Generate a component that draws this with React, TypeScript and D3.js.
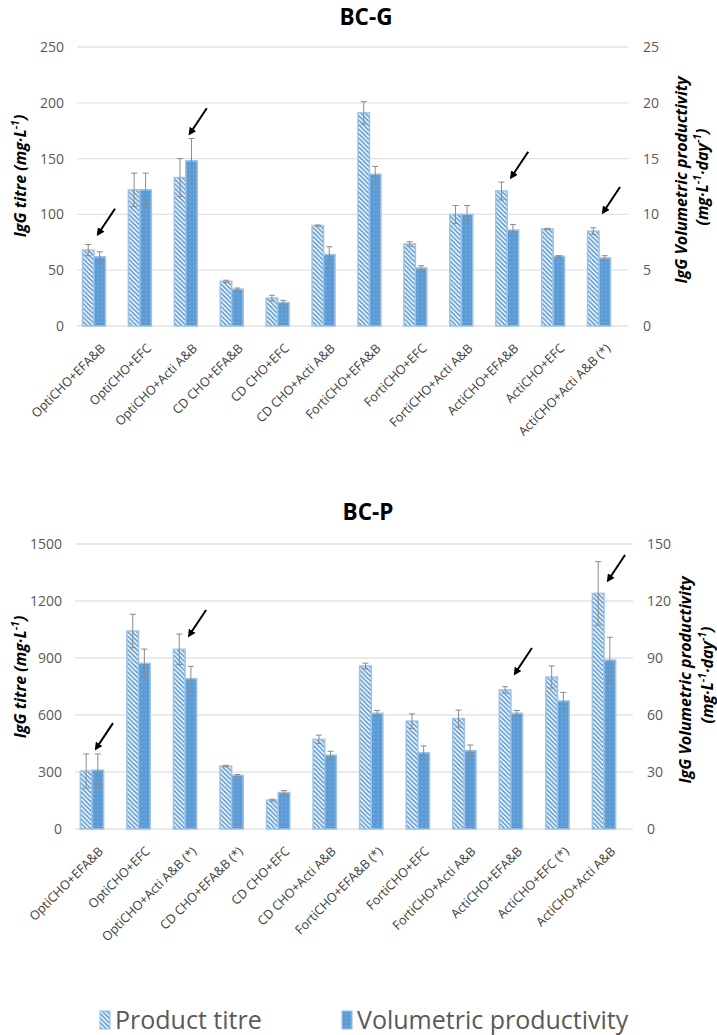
import React from 'react';
import * as d3 from 'd3';

// BC-G
const catsG = ['OptiCHO+EFA&B', 'OptiCHO+EFC', 'OptiCHO+Acti A&B', 'CD CHO+EFA&B', 'CD CHO+EFC', 'CD CHO+Acti A&B',
  'FortiCHO+EFA&B', 'FortiCHO+EFC', 'FortiCHO+Acti A&B', 'ActiCHO+EFA&B', 'ActiCHO+EFC', 'ActiCHO+Acti A&B (*)'];
const titreG = [68, 122, 133, 40, 25, 90, 191, 73.5, 100, 121, 87, 85];
const titreErrG = [5, 15, 17, 1, 2.5, 0.5, 10, 2, 8, 8, 0.5, 3];
const volG = [6.2, 12.2, 14.8, 3.3, 2.1, 6.4, 13.6, 5.2, 10.0, 8.6, 6.25, 6.1];
const volErrG = [0.45, 1.5, 2.0, 0.1, 0.2, 0.7, 0.7, 0.2, 0.8, 0.5, 0.05, 0.2];
const leftTicksG = [0, 50, 100, 150, 200, 250];
const rightTicksG = [0, 5, 10, 15, 20, 25];
const arrowCatsG = [0, 2, 9, 11];
const arrowValsG = [80, 170, 131, 99.5];

// BC-P
const catsP = ['OptiCHO+EFA&B', 'OptiCHO+EFC', 'OptiCHO+Acti A&B (*)', 'CD CHO+EFA&B (*)', 'CD CHO+EFC', 'CD CHO+Acti A&B',
  'FortiCHO+EFA&B (*)', 'FortiCHO+EFC', 'FortiCHO+Acti A&B', 'ActiCHO+EFA&B', 'ActiCHO+EFC (*)', 'ActiCHO+Acti A&B'];
const titreP = [305, 1042, 946, 331, 152, 472, 858, 568, 581, 732, 800, 1240];
const titreErrP = [90, 88, 80, 4, 5, 22, 15, 38, 45, 17, 58, 167];
const volP = [31.0, 87.2, 79.1, 28.2, 19.2, 38.9, 60.9, 40.2, 41.2, 60.9, 67.4, 88.9];
const volErrP = [8.5, 7.5, 6.5, 0.5, 1, 2, 1.5, 3.5, 3, 1.5, 4.5, 12];
const leftTicksP = [0, 300, 600, 900, 1200, 1500];
const rightTicksP = [0, 30, 60, 90, 120, 150];
const arrowCatsP = [0, 2, 9, 11];
const arrowValsP = [410, 1005, 805, 1295];

const legendNames = ['Product titre', 'Volumetric productivity'];

const BLUE = '#5B9BD5';
const EDGE = '#9DC3E6';
const GRID = '#e3e3e3';
const TICK = '#595959';
const FONT = '"Open Sans", sans-serif';

function Panel(props) {
  const { title, cats, titre, titreErr, vol, volErr, leftTicks, rightTicks, arrowCats, arrowVals, g } = props;
  const x = d3.scaleBand().domain(cats).range([g.x0, g.x1]);
  const leftMax = leftTicks[leftTicks.length - 1];
  const rightMax = rightTicks[rightTicks.length - 1];
  const y = d3.scaleLinear().domain([0, leftMax]).range([g.bottom, g.top]);
  const yR = d3.scaleLinear().domain([0, rightMax]).range([g.bottom, g.top]);
  const bw = x.step() * 0.25;
  const cx = c => x(c) + x.bandwidth() / 2;

  const errBar = (xc, v, e, sc, key) => (
    <g key={key} stroke="#8a8a8a" strokeWidth={1}>
      <line x1={xc} x2={xc} y1={sc(v + e)} y2={sc(v - e)} />
      <line x1={xc - 3} x2={xc + 3} y1={sc(v + e)} y2={sc(v + e)} />
      <line x1={xc - 3} x2={xc + 3} y1={sc(v - e)} y2={sc(v - e)} />
    </g>
  );

  const axisTitle = { fontFamily: FONT, fontWeight: 'bold', fontStyle: 'italic', fontSize: 16, fill: '#000', textAnchor: 'middle' };

  return (
    <g>
      <text x={g.titleX} y={g.titleY} textAnchor="middle" fontFamily={FONT} fontWeight="bold" fontSize={22.5} fill="#000">{title}</text>
      {leftTicks.map(t => (
        <g key={'gl' + t}>
          <line x1={g.gx0} x2={g.gx1} y1={y(t)} y2={y(t)} stroke={GRID} strokeWidth={1.3} />
          <text x={g.lx} y={y(t)} dy="0.36em" textAnchor="end" fontFamily={FONT} fontSize={14} fill={TICK}>{t}</text>
        </g>
      ))}
      {rightTicks.map(t => (
        <text key={'r' + t} x={g.rx} y={yR(t)} dy="0.36em" textAnchor="start" fontFamily={FONT} fontSize={14} fill={TICK}>{t}</text>
      ))}
      {cats.map((c, i) => {
        const c0 = cx(c);
        return (
          <g key={c}>
            <rect x={c0 - bw} y={y(titre[i])} width={bw} height={g.bottom - y(titre[i])} fill="url(#hatch)" stroke={EDGE} strokeWidth={1.5} />
            <rect x={c0} y={yR(vol[i])} width={bw} height={g.bottom - yR(vol[i])} fill="url(#dots)" stroke={EDGE} strokeWidth={1.5} />
            {errBar(c0 - bw / 2, titre[i], titreErr[i], y, 'e1')}
            {errBar(c0 + bw / 2, vol[i], volErr[i], yR, 'e2')}
            <text transform={`translate(${c0 + 9},${g.bottom + 20}) rotate(-45)`} dy="0.35em" textAnchor="end" fontFamily={FONT} fontSize={12.6} fill="#404040">{c}</text>
          </g>
        );
      })}
      {arrowCats.map((ci, i) => {
        const tx = cx(cats[ci]) + 2;
        const ty = y(arrowVals[i]);
        return <line key={'a' + i} x1={tx + 19} y1={ty - 28} x2={tx + 3} y2={ty - 4} stroke="#000" strokeWidth={2} markerEnd="url(#arrow)" />;
      })}
      <text transform={`translate(${g.ltX},${g.ltY}) rotate(-90)`} {...axisTitle}>
        IgG titre (mg·L<tspan baselineShift="super" fontSize={10.5}>-1</tspan>)
      </text>
      <text transform={`translate(${g.rt1X},${g.rt1Y}) rotate(-90)`} {...axisTitle}>
        IgG Volumetric productivity
      </text>
      <text transform={`translate(${g.rt2X},${g.rt2Y}) rotate(-90)`} {...axisTitle}>
        (mg·L<tspan baselineShift="super" fontSize={10.5}>-1</tspan>·day<tspan baselineShift="super" fontSize={10.5}>-1</tspan>)
      </text>
    </g>
  );
}

export default function App() {
  const gG = { x0: 71, x1: 622, gx0: 77, gx1: 628, top: 47, bottom: 326, lx: 64, rx: 643, titleX: 366, titleY: 25,
    ltX: 26, ltY: 176, rt1X: 687, rt1Y: 180, rt2X: 708, rt2Y: 177 };
  const gP = { x0: 68.7, x1: 627.3, gx0: 75, gx1: 633, top: 544, bottom: 829, lx: 62, rx: 647, titleX: 368, titleY: 520,
    ltX: 26, ltY: 677, rt1X: 691, rt1Y: 680, rt2X: 713, rt2Y: 675 };
  return (
    <svg width={717} height={1035} style={{ position: 'absolute', left: 0, top: 0, background: '#fff' }}>
      <defs>
        <pattern id="hatch" patternUnits="userSpaceOnUse" width={4.5} height={4.5}>
          <rect width={4.5} height={4.5} fill="#fff" />
          <path d="M-1,-1 L5.5,5.5 M3.5,-1 L5.5,1 M-1,3.5 L1,5.5" stroke={BLUE} strokeWidth={1.7} />
        </pattern>
        <pattern id="dots" patternUnits="userSpaceOnUse" width={4} height={4}>
          <rect width={4} height={4} fill={BLUE} />
          <circle cx={2} cy={2} r={0.55} fill="#a9cdee" />
        </pattern>
        <marker id="arrow" viewBox="0 0 10 10" refX={5} refY={5} markerWidth={4} markerHeight={4} orient="auto-start-reverse">
          <path d="M0,0 L10,5 L0,10 z" fill="#000" />
        </marker>
      </defs>
      <Panel title="BC-G" cats={catsG} titre={titreG} titreErr={titreErrG} vol={volG} volErr={volErrG}
        leftTicks={leftTicksG} rightTicks={rightTicksG} arrowCats={arrowCatsG} arrowVals={arrowValsG} g={gG} />
      <Panel title="BC-P" cats={catsP} titre={titreP} titreErr={titreErrP} vol={volP} volErr={volErrP}
        leftTicks={leftTicksP} rightTicks={rightTicksP} arrowCats={arrowCatsP} arrowVals={arrowValsP} g={gP} />
      <g fontFamily={FONT} fontSize={25} fill={TICK}>
        <rect x={100} y={1011} width={10} height={18} fill="url(#hatch)" stroke={EDGE} strokeWidth={1.2} />
        <text x={115} y={1029}>{legendNames[0]}</text>
        <rect x={342} y={1011} width={10} height={18} fill="url(#dots)" stroke={EDGE} strokeWidth={1.2} />
        <text x={357} y={1029}>{legendNames[1]}</text>
      </g>
    </svg>
  );
}
